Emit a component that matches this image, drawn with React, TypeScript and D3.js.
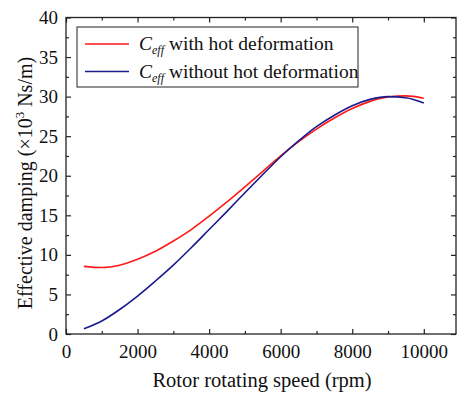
import React, { useEffect, useRef } from 'react';
import * as d3 from 'd3';

const speeds = [500, 1000, 1500, 2000, 2500, 3000, 3500, 4000, 4500, 5000, 5500, 6000, 6500, 7000, 7500, 8000, 8500, 9000, 9500, 10000];
const withHot = [8.55, 8.4, 8.7, 9.45, 10.45, 11.75, 13.2, 14.9, 16.7, 18.6, 20.55, 22.5, 24.3, 25.9, 27.3, 28.5, 29.4, 29.95, 30.1, 29.8];
const withoutHot = [0.65, 1.65, 3.1, 4.8, 6.7, 8.7, 10.9, 13.2, 15.5, 17.85, 20.15, 22.4, 24.4, 26.2, 27.65, 28.85, 29.65, 30.0, 29.85, 29.2];
const xTicks = [0, 2000, 4000, 6000, 8000, 10000];
const yTicks = [0, 5, 10, 15, 20, 25, 30, 35, 40];
const legendLabels = ['with hot deformation', 'without hot deformation'];
const colors = ['#ff1a1a', '#1a1a8c'];

const W = 457;
const H = 396;
const margin = { top: 17.5, right: 1, bottom: 62, left: 66 };
const font = 'Liberation Serif';

const App = () => {
  const svgRef = useRef<SVGSVGElement>(null);

  useEffect(() => {
    const svg = d3.select(svgRef.current);
    svg.selectAll('*').remove();

    const innerW = W - margin.left - margin.right;
    const innerH = H - margin.top - margin.bottom;

    const x = d3.scaleLinear().domain([0, 10900]).range([0, innerW]);
    const y = d3.scaleLinear().domain([0, 40]).range([innerH, 0]);

    const g = svg.append('g').attr('transform', `translate(${margin.left},${margin.top})`);

    // frame
    g.append('rect')
      .attr('width', innerW).attr('height', innerH)
      .attr('fill', 'none').attr('stroke', '#222').attr('stroke-width', 1.3);

    const xMinor = d3.range(1000, 10900, 2000);
    const yMinor = d3.range(2.5, 40, 5);

    const tickStyle = (sel: any) => {
      sel.attr('font-family', font).attr('font-size', 19);
      sel.select('.domain').remove();
      sel.selectAll('line').attr('stroke', '#222').attr('stroke-width', 1.2);
      sel.selectAll('text').attr('fill', '#111');
    };

    // bottom
    g.append('g').attr('transform', `translate(0,${innerH})`)
      .call(d3.axisBottom(x).tickValues(xTicks).tickSize(-5).tickPadding(11).tickFormat(d3.format('d')))
      .call(tickStyle);
    g.append('g').attr('transform', `translate(0,${innerH})`)
      .call(d3.axisBottom(x).tickValues(xMinor).tickSize(-3).tickFormat(() => ''))
      .call(tickStyle);
    // top
    g.append('g')
      .call(d3.axisTop(x).tickValues(xTicks).tickSize(-5).tickFormat(() => ''))
      .call(tickStyle);
    g.append('g')
      .call(d3.axisTop(x).tickValues(xMinor).tickSize(-3).tickFormat(() => ''))
      .call(tickStyle);
    // left
    g.append('g')
      .call(d3.axisLeft(y).tickValues(yTicks).tickSize(-5).tickPadding(8))
      .call(tickStyle);
    g.append('g')
      .call(d3.axisLeft(y).tickValues(yMinor).tickSize(-3).tickFormat(() => ''))
      .call(tickStyle);
    // right
    g.append('g').attr('transform', `translate(${innerW},0)`)
      .call(d3.axisRight(y).tickValues(yTicks).tickSize(-5).tickFormat(() => ''))
      .call(tickStyle);
    g.append('g').attr('transform', `translate(${innerW},0)`)
      .call(d3.axisRight(y).tickValues(yMinor).tickSize(-3).tickFormat(() => ''))
      .call(tickStyle);

    const line = d3.line<number>()
      .x((_, i) => x(speeds[i]))
      .y(d => y(d))
      .curve(d3.curveMonotoneX);

    [withHot, withoutHot].forEach((s, i) => {
      g.append('path')
        .datum(s)
        .attr('d', line)
        .attr('fill', 'none')
        .attr('stroke', colors[i])
        .attr('stroke-width', 1.6);
    });

    // legend
    const lg = g.append('g').attr('transform', `translate(${77 - margin.left},${27 - margin.top})`);
    lg.append('rect')
      .attr('width', 281).attr('height', 60)
      .attr('fill', 'white').attr('stroke', '#222').attr('stroke-width', 1);
    legendLabels.forEach((lab, i) => {
      const ly = 17 + i * 27.5;
      lg.append('line')
        .attr('x1', 8).attr('x2', 52).attr('y1', ly).attr('y2', ly)
        .attr('stroke', colors[i]).attr('stroke-width', 1.6);
      const t = lg.append('text')
        .attr('x', 62).attr('y', ly + 6)
        .attr('font-family', font).attr('font-size', 19.5).attr('fill', '#111');
      t.append('tspan').attr('font-style', 'italic').text('C');
      t.append('tspan').attr('font-style', 'italic').attr('font-size', 12).attr('dy', 4).text('eff');
      t.append('tspan').attr('dy', -4).text(' ' + lab);
    });

    // axis titles
    svg.append('text')
      .attr('x', 262)
      .attr('y', 387)
      .attr('text-anchor', 'middle')
      .attr('font-family', font).attr('font-size', 20.5).attr('fill', '#111')
      .text('Rotor rotating speed (rpm)');

    const yt = svg.append('text')
      .attr('transform', 'translate(32,183) rotate(-90)')
      .attr('text-anchor', 'middle')
      .attr('font-family', font).attr('font-size', 20).attr('fill', '#111');
    yt.append('tspan').text('Effective damping (×10');
    yt.append('tspan').attr('font-size', 13).attr('dy', -8).text('3');
    yt.append('tspan').attr('dy', 8).text(' Ns/m)');
  }, []);

  return <svg ref={svgRef} width={W} height={H} style={{ position: 'absolute', left: 0, top: 0, background: 'white' }} />;
};

export default App;
